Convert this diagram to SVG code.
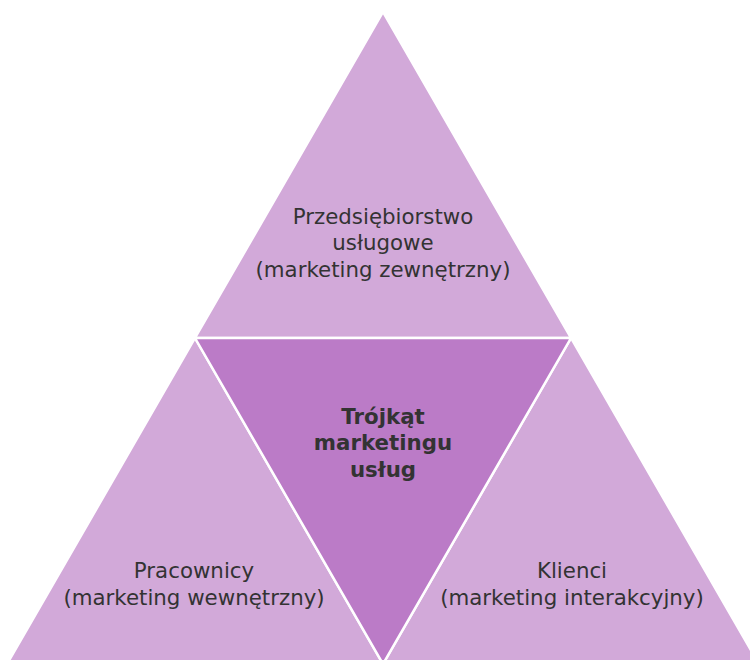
<svg xmlns="http://www.w3.org/2000/svg" width="750" height="660" viewBox="0 0 750 660">
<style>
.outer{fill:#D2A9D9;stroke:#FFFFFF;stroke-width:2.5;stroke-linejoin:miter}
.inner{fill:#BB7BC7;stroke:#FFFFFF;stroke-width:2.5}
text{font-family:"DejaVu Sans",sans-serif;font-size:21.33px;fill:#333333;text-anchor:middle}
.b{font-weight:bold}
</style>
<rect width="750" height="660" fill="#FFFFFF"/>
<g id="top">
<polygon class="outer" points="383,12 571,338 195,338"/>
<text x="383" y="224">Przedsiębiorstwo</text>
<text x="383" y="250">usługowe</text>
<text x="383" y="277">(marketing zewnętrzny)</text>
</g>
<g id="left">
<polygon class="outer" points="195,338 383,664 7,664"/>
<text x="194" y="578">Pracownicy</text>
<text x="194" y="605">(marketing wewnętrzny)</text>
</g>
<g id="right">
<polygon class="outer" points="571,338 759,664 383,664"/>
<text x="572" y="578">Klienci</text>
<text x="572" y="605">(marketing interakcyjny)</text>
</g>
<g id="center">
<polygon class="inner" points="195,338 571,338 383,664"/>
<text class="b" x="383" y="424">Trójkąt</text>
<text class="b" x="383" y="450">marketingu</text>
<text class="b" x="383" y="477">usług</text>
</g>
<g id="connectors"></g>
</svg>
